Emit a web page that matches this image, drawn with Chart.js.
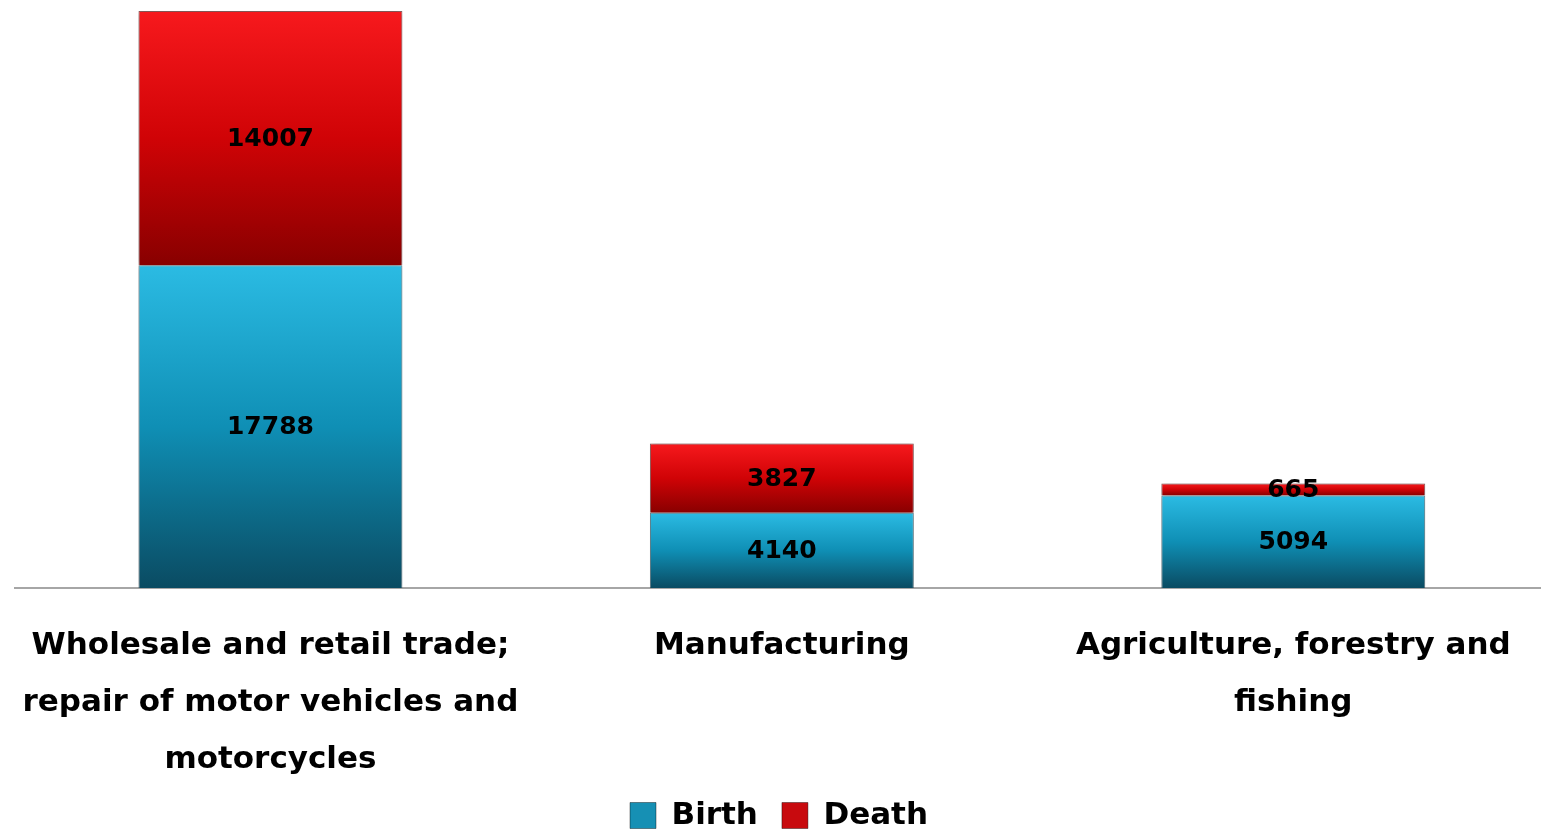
<!DOCTYPE html>
<html>
<head>
<meta charset="utf-8">
<script src="https://cdn.jsdelivr.net/npm/chart.js@4/dist/chart.umd.min.js"></script>
<style>
    html, body { margin: 0; padding: 0; background: #ffffff; overflow: hidden; }
    .chart-box { position: absolute; left: 0; top: 0; width: 1549px; height: 835px; }
</style>
</head>
<body>
<div class="chart-box"><canvas id="bdChart"></canvas></div>
<script>
// --- Data ---
const categories = [
    ['Wholesale and retail trade;', 'repair of motor vehicles and', 'motorcycles'],
    'Manufacturing',
    ['Agriculture, forestry and', 'fishing']
];
const birthValues = [17788, 4140, 5094];
const deathValues = [14007, 3827, 665];
const yMax = 31795;

const FONT = "'DejaVu Sans', 'Lucida Grande', sans-serif";
const LEGEND_FILL = { Birth: '#1690b4', Death: '#c80a0e' };

// Gradient per segment: light at the top, dark at the bottom
function segmentGradient(light, dark, mid) {
    return (ctx) => {
        const chart = ctx.chart;
        if (ctx.type !== 'data' || !chart.chartArea) return mid;
        const i = ctx.dataIndex;
        let start = 0;
        for (let d = 0; d < ctx.datasetIndex; d++) start += chart.data.datasets[d].data[i];
        const value = chart.data.datasets[ctx.datasetIndex].data[i];
        const y = chart.scales.y;
        const top = y.getPixelForValue(start + value);
        const bottom = y.getPixelForValue(start);
        const g = chart.ctx.createLinearGradient(0, top, 0, bottom);
        g.addColorStop(0, light);
        g.addColorStop(0.5, mid);
        g.addColorStop(1, dark);
        return g;
    };
}

// Labels in the middle of each segment
const segmentLabels = {
    id: 'segmentLabels',
    afterDatasetsDraw(chart) {
        const c = chart.ctx;
        c.save();
        c.font = 'bold 25px ' + FONT;
        c.fillStyle = '#000000';
        c.textAlign = 'center';
        c.textBaseline = 'middle';
        chart.data.datasets.forEach((ds, di) => {
            chart.getDatasetMeta(di).data.forEach((bar, i) => {
                c.fillText(String(ds.data[i]), bar.x, (bar.y + bar.base) / 2 + 1);
            });
        });
        c.restore();
    }
};

// Soft shadow round the bars
const barShadow = {
    id: 'barShadow',
    beforeDatasetDraw(chart) {
        const c = chart.ctx;
        c.save();
        c.shadowColor = 'rgba(0,0,0,0.35)';
        c.shadowBlur = 6;
        c.shadowOffsetX = 0;
        c.shadowOffsetY = 0;
    },
    afterDatasetDraw(chart) {
        chart.ctx.restore();
    }
};

new Chart(document.getElementById('bdChart'), {
    type: 'bar',
    data: {
        labels: categories,
        datasets: [
            {
                label: 'Birth',
                data: birthValues,
                backgroundColor: segmentGradient('#2bbbe3', '#0a4b62', '#0f8fb5'),
                borderColor: 'rgba(10,60,80,0.6)',
                borderWidth: 1,
                categoryPercentage: 1,
                barPercentage: 0.516
            },
            {
                label: 'Death',
                data: deathValues,
                backgroundColor: segmentGradient('#f7191d', '#880000', '#d00306'),
                borderColor: 'rgba(90,0,0,0.6)',
                borderWidth: 1,
                categoryPercentage: 1,
                barPercentage: 0.516
            }
        ]
    },
    options: {
        responsive: true,
        maintainAspectRatio: false,
        animation: false,
        layout: { padding: { left: 9, right: 0, top: 11, bottom: 0 } },
        plugins: {
            tooltip: { enabled: false },
            legend: {
                position: 'bottom',
                maxHeight: 59,
                labels: {
                    color: '#000000',
                    font: { family: FONT, size: 31, weight: 'bold' },
                    boxWidth: 26,
                    boxHeight: 26,
                    padding: 24,
                    generateLabels(chart) {
                        const items = Chart.defaults.plugins.legend.labels.generateLabels(chart);
                        items.forEach(it => {
                            it.fillStyle = LEGEND_FILL[it.text];
                            it.strokeStyle = 'rgba(0,0,0,0.4)';
                            it.lineWidth = 1;
                        });
                        return items;
                    }
                }
            }
        },
        scales: {
            x: {
                stacked: true,
                grid: { display: false },
                border: { display: true, color: '#a6a6a6', width: 2 },
                ticks: {
                    color: '#000000',
                    font: { family: FONT, size: 31, weight: 'bold', lineHeight: 1.85 },
                    padding: 21,
                    maxRotation: 0,
                    autoSkip: false
                },
                afterFit(scale) {
                    scale.height = 188;
                }
            },
            y: {
                stacked: true,
                display: false,
                min: 0,
                max: yMax
            }
        }
    },
    plugins: [barShadow, segmentLabels]
});
</script>
</body>
</html>
